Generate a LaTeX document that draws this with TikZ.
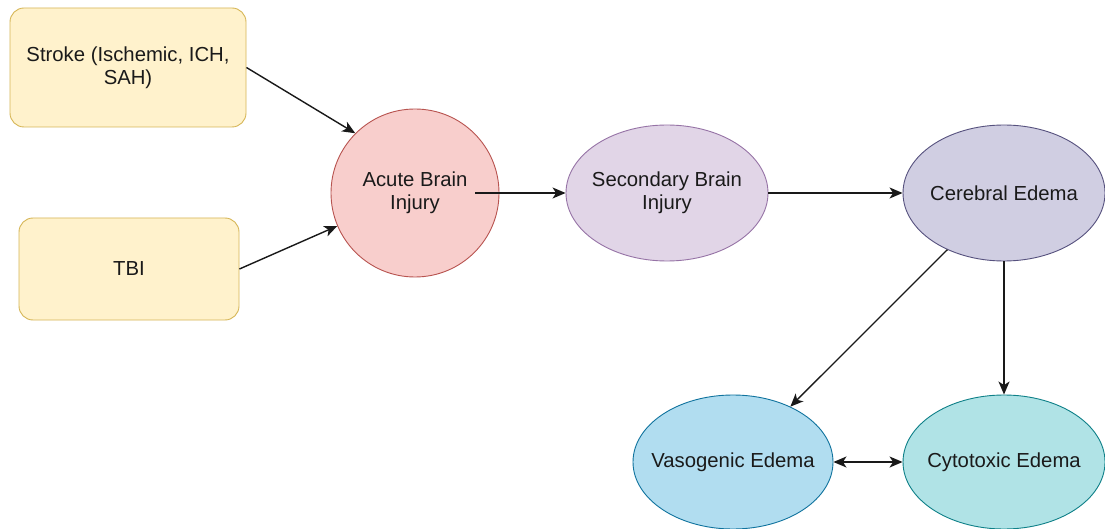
\documentclass[tikz,border=0pt]{standalone}
\usepackage{fontspec}
\setmainfont{Liberation Sans}
\usetikzlibrary{shapes.geometric,arrows.meta}
\definecolor{yfill}{HTML}{FFF2CC}\definecolor{ydraw}{HTML}{D6B656}
\definecolor{rfill}{HTML}{F8CECC}\definecolor{rdraw}{HTML}{B85450}
\definecolor{pfill}{HTML}{E1D5E7}\definecolor{pdraw}{HTML}{9673A6}
\definecolor{cfill}{HTML}{D0CEE2}\definecolor{cdraw}{HTML}{56517E}
\definecolor{bfill}{HTML}{B1DDF0}\definecolor{bdraw}{HTML}{10739E}
\definecolor{tfill}{HTML}{B0E3E6}\definecolor{tdraw}{HTML}{0E8088}
\definecolor{txt}{HTML}{1A1A1A}
\tikzset{
  base/.style={line width=0.9pt, text=txt, font=\fontsize{20.3}{23.5}\selectfont, align=center, inner sep=0pt},
  box/.style={base, rectangle, rounded corners=14pt},
  oval/.style={base, ellipse},
  lab/.style={text=txt, font=\fontsize{20.3}{23.5}\selectfont, align=center},
  conn/.style={line width=1.4pt, draw=black!90, -{Stealth[length=13pt,width=11pt,inset=3.5pt]}},
  biconn/.style={line width=1.4pt, draw=black!90, {Stealth[length=13pt,width=11pt,inset=3.5pt]}-{Stealth[length=13pt,width=11pt,inset=3.5pt]}}
}
\begin{document}
\begin{tikzpicture}[x=1pt,y=-1pt]
\useasboundingbox (0,0) rectangle (1105,529);
\fill[white] (0,0) rectangle (1105,529);
\node[box, fill=yfill, draw=ydraw, minimum width=236pt, minimum height=119pt] (stroke) at (128,67.5) {Stroke (Ischemic, ICH,\\SAH)};
\node[box, fill=yfill, draw=ydraw, minimum width=220pt, minimum height=102pt] (tbi) at (129,269) {TBI};
\node[base, circle, fill=rfill, draw=rdraw, minimum size=168pt] (acute) at (415,193) {Acute Brain\\Injury};
\node[oval, fill=pfill, draw=pdraw, minimum width=202pt, minimum height=136pt, label={[lab]center:Secondary Brain\\Injury}] (secondary) at (667,193) {};
\node[oval, fill=cfill, draw=cdraw, minimum width=202pt, minimum height=136pt, label={[lab]center:Cerebral Edema}] (cerebral) at (1004,193) {};
\node[oval, fill=bfill, draw=bdraw, minimum width=200pt, minimum height=134pt, label={[lab]center:Vasogenic Edema}] (vaso) at (733,462) {};
\node[oval, fill=tfill, draw=tdraw, minimum width=202pt, minimum height=134pt, label={[lab]center:Cytotoxic Edema}] (cyto) at (1004,462) {};
\coordinate (aout) at (475,193);
\draw[conn] (stroke.east) -- (acute.135);
\draw[conn] (tbi.east) -- (acute.203);
\draw[conn] (aout) -- (secondary.west);
\draw[conn] (secondary.east) -- (cerebral.west);
\draw[conn] (cerebral.225) -- (vaso.44);
\draw[conn] (cerebral.south) -- (cyto.north);
\draw[biconn] (vaso.east) -- (cyto.west);
\end{tikzpicture}
\end{document}
